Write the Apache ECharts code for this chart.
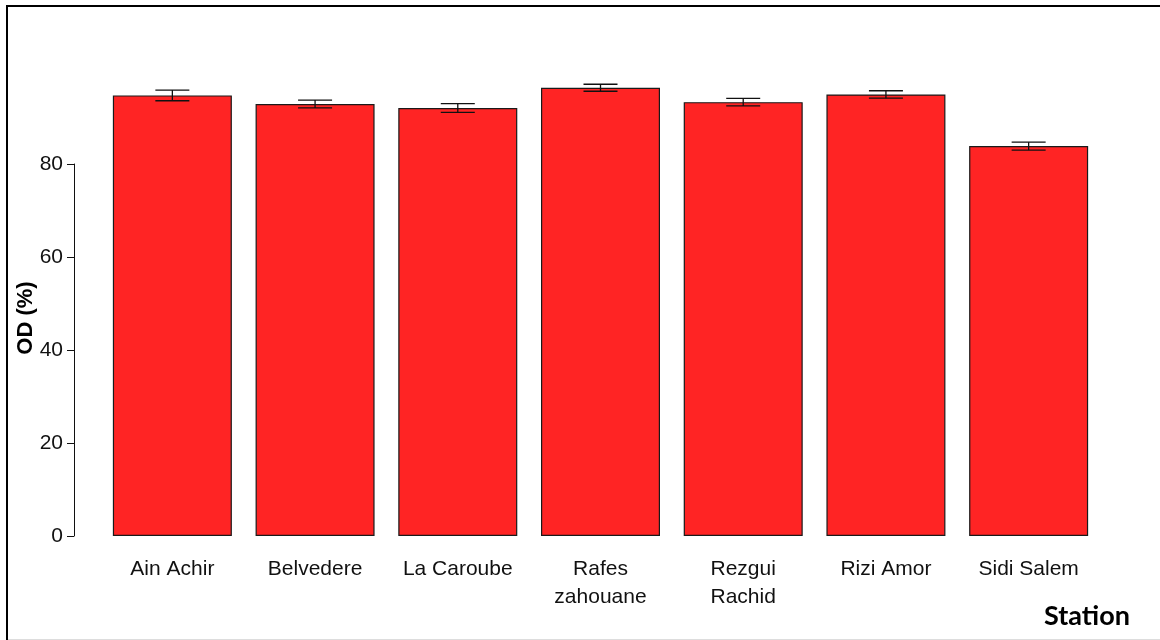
<!DOCTYPE html>
<html lang="en" style="height: 100%">

<head>
  <meta charset="utf-8">
  <title>OD (%) by Station</title>
  <script src="https://cdn.jsdelivr.net/npm/echarts@6/dist/echarts.min.js"></script>
</head>

<body style="height: 100%; margin: 0; background: #fff">
  <div id="chart" style="height: 640px; width: 1160px"></div>
  <script type="text/javascript">
    // data
    const stations = ['Ain Achir', 'Belvedere', 'La Caroube', 'Rafes\nzahouane', 'Rezgui\nRachid', 'Rizi Amor', 'Sidi Salem'];
    const odMean = [94.75, 92.9, 92.05, 96.4, 93.3, 94.95, 83.85];
    const odErr = [1.15, 0.85, 0.95, 0.75, 0.8, 0.8, 0.85];
    const yTicks = [0, 20, 40, 60, 80];

    const font = "'Liberation Sans', Arial, sans-serif";

    const chart = echarts.init(document.getElementById('chart'));
    const option = {
      animation: false,
      backgroundColor: '#fff',
      grid: {
        left: 101,
        right: 60,
        top: 164,
        bottom: 104
      },
      xAxis: {
        type: 'category',
        data: stations,
        axisLine: { show: false },
        axisTick: { show: false },
        axisLabel: {
          color: '#111',
          fontFamily: font,
          fontSize: 21,
          lineHeight: 28,
          margin: 19
        }
      },
      yAxis: {
        type: 'value',
        min: yTicks[0],
        max: yTicks[yTicks.length - 1],
        interval: 20,
        offset: 27,
        splitLine: { show: false },
        axisLine: { show: true, lineStyle: { color: '#111', width: 1 } },
        axisTick: { show: true, length: 7, lineStyle: { color: '#111', width: 1 } },
        axisLabel: {
          color: '#111',
          fontFamily: font,
          fontSize: 21,
          margin: 11
        }
      },
      graphic: [
        // outer frame (right and bottom sides fall off the page like the reference)
        {
          type: 'rect',
          shape: { x: 7, y: 6, width: 1170, height: 700 },
          style: { fill: 'none', stroke: '#000', lineWidth: 2 },
          silent: true
        },
        {
          type: 'line',
          shape: { x1: 8, y1: 639.5, x2: 1160, y2: 639.5 },
          style: { stroke: '#ddd', lineWidth: 1 },
          silent: true
        },
        {
          type: 'text',
          x: 26,
          y: 318,
          rotation: Math.PI / 2,
          style: {
            text: 'OD (%)',
            font: "bold 22px 'Liberation Sans', Arial, sans-serif",
            fill: '#000',
            align: 'center',
            verticalAlign: 'middle'
          }
        },
        {
          type: 'text',
          x: 1087,
          y: 616,
          style: {
            text: 'Station',
            font: "bold 27px Lato, 'Open Sans', sans-serif",
            fill: '#000',
            align: 'center',
            verticalAlign: 'middle'
          }
        }
      ],
      series: [
        {
          type: 'bar',
          data: odMean,
          barWidth: 119,
          clip: false,
          itemStyle: {
            color: '#ff2424',
            borderColor: '#1a1a1a',
            borderWidth: 1.2
          },
          z: 2
        },
        {
          type: 'custom',
          clip: false,
          z: 3,
          data: odMean.map((m, i) => [i, m - odErr[i], m + odErr[i]]),
          renderItem: function (params, api) {
            const lo = api.coord([api.value(0), api.value(1)]);
            const hi = api.coord([api.value(0), api.value(2)]);
            const half = 17;
            const style = { stroke: '#111', lineWidth: 1.3 };
            return {
              type: 'group',
              children: [
                { type: 'line', shape: { x1: hi[0], y1: hi[1], x2: lo[0], y2: lo[1] }, style: style },
                { type: 'line', shape: { x1: hi[0] - half, y1: hi[1], x2: hi[0] + half, y2: hi[1] }, style: style },
                { type: 'line', shape: { x1: lo[0] - half, y1: lo[1], x2: lo[0] + half, y2: lo[1] }, style: style }
              ]
            };
          }
        }
      ]
    };
    chart.setOption(option);
  </script>
</body>

</html>
